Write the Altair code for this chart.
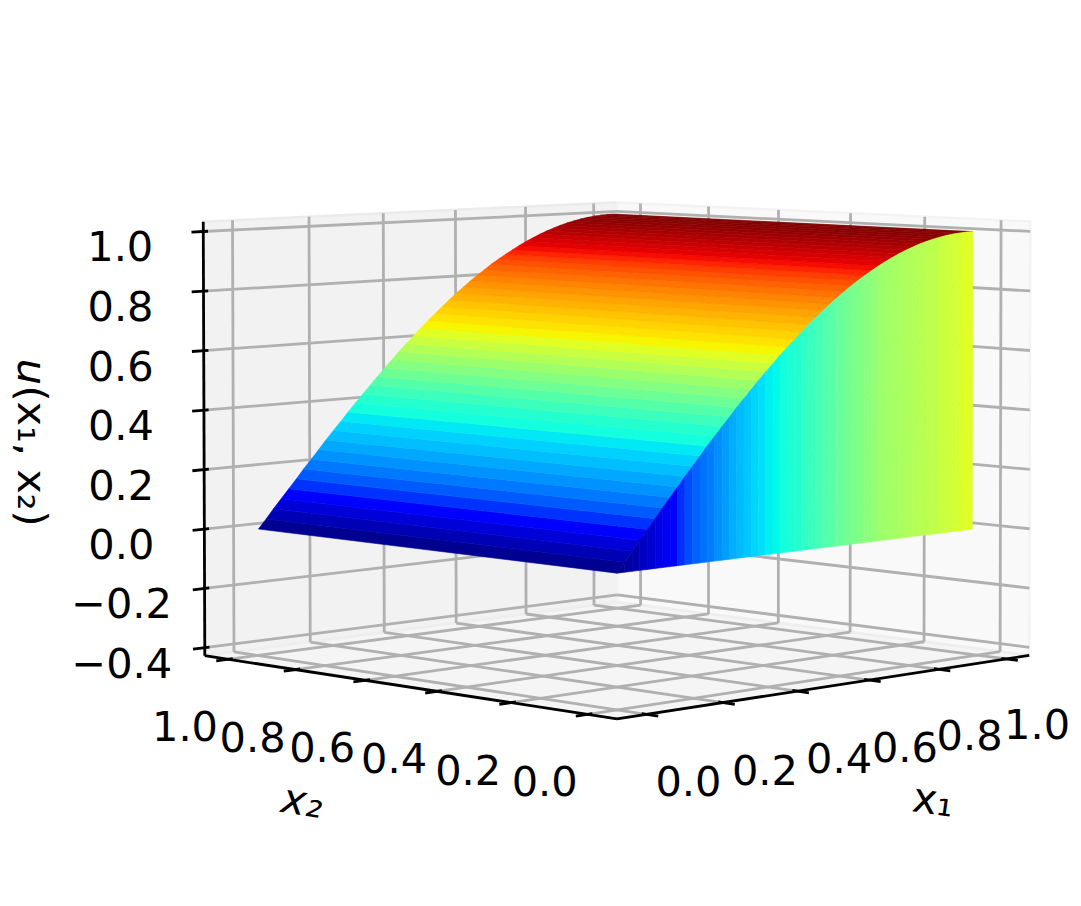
import numpy as np
import altair as alt

# ---- values ----
X_EDGES = [0.0,.020,.039,.059,.079,.099,.118,.138,.158,.177,.197,.217,.236,.256,.276,.296,.315,.335,.355,.374,.394,.414,.433,.453,.473,.493,.512,.532,.552,.571,.591,.611,.630,.650,.670,.690,.709,.729,.749,.768,.788,.808,.827,.847,.867,.887,.906,.926,.946,.965,.985]
U_EDGES = [0.0,.0314,.0628,.0941,.1253,.1564,.1874,.2181,.2487,.2790,.3090,.3387,.3681,.3971,.4258,.4540,.4818,.5090,.5358,.5621,.5878,.6129,.6374,.6613,.6845,.7071,.7290,.7501,.7705,.7902,.8090,.8271,.8443,.8607,.8763,.8910,.9048,.9178,.9298,.9409,.9511,.9603,.9686,.9759,.9823,.9877,.9921,.9956,.9980,.9995,1.0]
WALL_SHADE = [.01,.03,.04,.06,.07,.09,.10,.12,.14,.16,.18,.195,.21,.23,.25,.27,.29,.31,.33,.345,.36,.37,.385,.40,.41,.425,.44,.45,.465,.475,.49,.50,.51,.52,.53,.54,.55,.555,.56,.565,.57,.575,.58,.585,.59,.60,.605,.61,.62,.625]
X2_END = 0.995
XY_TICKS = [0.0, 0.2, 0.4, 0.6, 0.8, 1.0]
Z_TICKS = [-0.4, -0.2, 0.0, 0.2, 0.4, 0.6, 0.8, 1.0]
A, B = -0.075, 1.07         # box limits of x1 and x2
ZL, ZH = -0.427, 1.033      # box limits of u

JET_DOMAIN = [0, .11, .125, .34, .35, .375, .64, .65, .66, .89, .91, 1]
JET_RANGE = ["#000080", "#0000ff", "#0000ff", "#00dbff", "#00e5f7", "#14ffe2",
             "#eeff08", "#f7f500", "#ffec00", "#ff1300", "#e80000", "#800000"]

# camera calibration: box landmarks and where they appear in the picture
CAL_3D = [(A,A,ZL),(A,B,ZL),(B,A,ZL),(B,B,ZL),(A,B,ZH),(B,A,ZH),(B,B,ZH),
          (A,B,1.0),(A,B,0.0),(A,B,-0.4),(B,A,1.0),
          (0,B,ZL),(1,B,ZL),(B,0,ZL),(B,1,ZL),
          (0,A,ZL),(1,A,ZL),(A,0,ZL),(A,1,ZL)]
CAL_2D = [(617,716),(205,657),(1028,657),(617,599),(203,221),(1030,221),(618,204),
          (203,231),(204.5,530),(205,649),(1030,231),
          (234,654),(593,603),(1000,655),(641,603),
          (647,713),(1008,661),(587,712),(228,661)]

W, H, M = 1065, 890, 8
FONT = 41.5

def fit_camera():
    rows, rhs = [], []
    for (x, y, z), (u, v) in zip(CAL_3D, CAL_2D):
        rows.append([x, y, z, 1, 0, 0, 0, 0, -u*x, -u*y, -u*z]); rhs.append(u)
        rows.append([0, 0, 0, 0, x, y, z, 1, -v*x, -v*y, -v*z]); rhs.append(v)
    p = np.linalg.lstsq(np.array(rows, float), np.array(rhs, float), rcond=None)[0]
    return np.append(p, 1).reshape(3, 4)

CAM = fit_camera()

def proj(x, y, z):
    q = CAM @ np.array([x, y, z, 1.0])
    return [float(q[0]/q[2]) - M, float(q[1]/q[2]) - M]

def poly(pts, **props):
    c = [proj(*p) for p in pts]
    c.append(c[0])
    return {"type": "Feature", "properties": props,
            "geometry": {"type": "Polygon", "coordinates": [c]}}

def seg(a, b, **props):
    return {"type": "Feature", "properties": props,
            "geometry": {"type": "LineString", "coordinates": [proj(*a), proj(*b)]}}

JET = alt.Scale(domain=JET_DOMAIN, range=JET_RANGE, clamp=True)

def shapes(features, **mark):
    return alt.Chart(alt.Data(values=features)).mark_geoshape(**mark).project(
        type="identity", scale=1, translate=[0, 0])

# panes
left_wall = shapes([poly([(A,B,ZL),(B,B,ZL),(B,B,ZH),(A,B,ZH)])], fill="#f2f2f2", stroke="#ebebeb", strokeWidth=2.5)
right_wall = shapes([poly([(B,B,ZL),(B,A,ZL),(B,A,ZH),(B,B,ZH)])], fill="#f9f9f9", stroke="#f3f3f3", strokeWidth=2.5)
floor = shapes([poly([(A,A,ZL),(B,A,ZL),(B,B,ZL),(A,B,ZL)])], fill="#f5f5f5", stroke="#eeeeee", strokeWidth=2.5)

# grid
grid = []
for t in XY_TICKS:
    grid.append(seg((t,A,ZL),(t,B,ZL)))
    grid.append(seg((t,B,ZL),(t,B,ZH)))
    grid.append(seg((A,t,ZL),(B,t,ZL)))
    grid.append(seg((B,t,ZL),(B,t,ZH)))
for z in Z_TICKS:
    grid.append(seg((A,B,z),(B,B,z)))
    grid.append(seg((B,B,z),(B,A,z)))
grid_layer = shapes(grid, filled=False, stroke="#b0b0b0", strokeWidth=2.8)

# axis lines and ticks
OUT, INN = 0.03, 0.012
axes = [seg((A,A,ZL),(B,A,ZL)), seg((A,A,ZL),(A,B,ZL)), seg((A,B,ZL),(A,B,ZH))]
for t in XY_TICKS:
    axes.append(seg((t,A-OUT,ZL),(t,A+INN,ZL)))
    axes.append(seg((A-OUT,t,ZL),(A+INN,t,ZL)))
for z in Z_TICKS:
    axes.append(seg((A-OUT,B,z),(A+INN,B,z)))
axes_layer = shapes(axes, filled=False, stroke="black", strokeWidth=2.8)

# surface
top, wall = [], []
for i in range(len(X_EDGES)-1):
    x0, x1 = X_EDGES[i], X_EDGES[i+1]
    u0, u1 = U_EDGES[i], U_EDGES[i+1]
    top.append(poly([(x0,0,u0),(x1,0,u1),(x1,X2_END,u1),(x0,X2_END,u0)], u=(u0+u1)/2))
    wall.append(poly([(x0,0,0),(x1,0,0),(x1,0,u1),(x0,0,u0)], u=WALL_SHADE[i]))

def surf(features):
    return shapes(features, strokeWidth=0.6).encode(
        fill=alt.Fill("properties.u:Q", scale=JET, legend=None),
        stroke=alt.Stroke("properties.u:Q", scale=JET, legend=None))

# text
PX = alt.Scale(domain=[0, W], range=[0, W])
PY = alt.Scale(domain=[0, H], range=[0, H])

def text_layer(rows, **mark):
    base = dict(font="DejaVu Sans", fontSize=FONT, color="black", align="center", baseline="middle")
    base.update(mark)
    return alt.Chart(alt.Data(values=rows)).mark_text(**base).encode(
        x=alt.X("px:Q", scale=PX, axis=None),
        y=alt.Y("py:Q", scale=PY, axis=None),
        text="t:N")

def label_rows(points, texts, dx, dy):
    out = []
    for p, t in zip(points, texts):
        x, y = proj(*p)
        out.append({"px": x+dx, "py": y+dy, "t": t})
    return out

fmt = lambda v: f"{v:.1f}".replace("-", "\u2212")
z_labels = text_layer(label_rows([(A,B,z) for z in Z_TICKS], [fmt(z) for z in Z_TICKS], -83, 18))
x1_labels = text_layer(label_rows([(t,A,ZL) for t in XY_TICKS[:3]], [fmt(t) for t in XY_TICKS[:3]], 42, 70))
# the last labels are squeezed in against the page's right edge
x1_06 = text_layer(label_rows([(0.6,A,ZL)], ["0.6"], 36, 70))
x1_08 = text_layer(label_rows([(0.8,A,ZL)], ["0.8"], 31, 69))
x1_last = text_layer(label_rows([(1.0,A,ZL)], ["1.0"], 31, 68))
x2_labels = text_layer(label_rows([(A,t,ZL) for t in XY_TICKS], [fmt(t) for t in XY_TICKS], -43, 70))

x1_title = text_layer([{"px": 933-M, "py": 802-M, "t": "x\u2081"}], angle=8)
x2_title = text_layer([{"px": 302-M, "py": 803-M, "t": "x\u2082"}], angle=9, fontStyle="italic")
u_title = text_layer([{"px": 18-M, "py": 372-M, "t": "u"}], angle=90, baseline="alphabetic", fontStyle="italic")
u_rest = text_layer([{"px": 18-M, "py": 456-M, "t": "(x\u2081, x\u2082)"}], angle=90, baseline="alphabetic")

chart = alt.layer(
    left_wall, right_wall, floor, grid_layer, axes_layer, surf(top), surf(wall),
    z_labels, x1_labels, x1_06, x1_08, x1_last, x2_labels, x1_title, x2_title, u_title, u_rest
).resolve_scale(fill="shared", stroke="shared").properties(
    width=W, height=H, padding=0, background="white", autosize=alt.AutoSizeParams(type="none")
).configure_view(stroke=None)

chart.save("out.html", embed_options={"renderer": "svg", "actions": False})
